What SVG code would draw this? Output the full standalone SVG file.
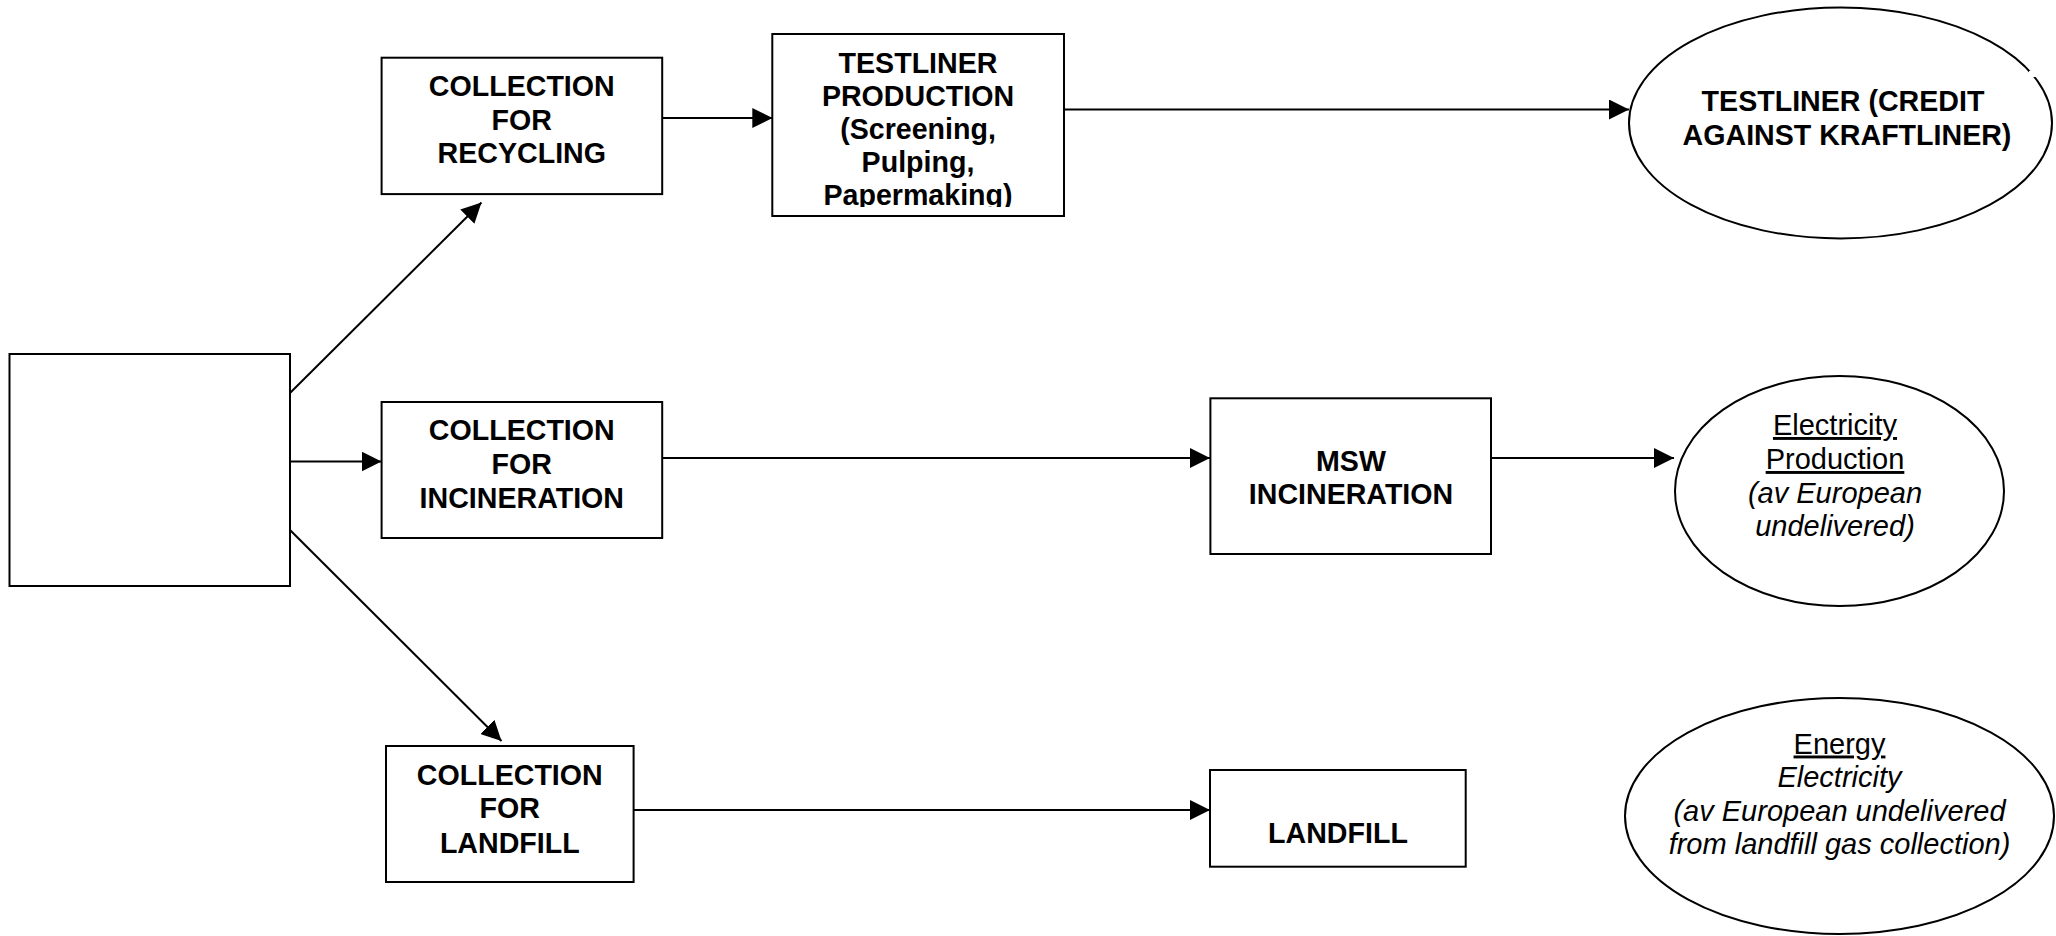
<svg xmlns="http://www.w3.org/2000/svg" width="2056" height="936" viewBox="0 0 2056 936">
  <defs>
    <style>
      .box { fill: #fff; stroke: #000; stroke-width: 2; }
      .ell { fill: #fff; stroke: #000; stroke-width: 2; }
      .b { font-family: "Liberation Sans", Arial, sans-serif; font-weight: bold; font-size: 28.6px; text-anchor: middle; fill: #000; }
      .r { font-family: "Liberation Sans", Arial, sans-serif; font-size: 29px; text-anchor: middle; fill: #000; }
      .i { font-style: italic; }
      .u { text-decoration: underline; }
      .conn { stroke: #000; stroke-width: 2; fill: none; marker-end: url(#arr); }
    </style>
    <marker id="arr" markerUnits="userSpaceOnUse" viewBox="0 0 20 20" markerWidth="20" markerHeight="20" refX="20" refY="10" orient="auto">
      <path d="M0,0 L20,10 L0,20 z" fill="#000"/>
    </marker>
    <clipPath id="tlclip">
      <rect x="772" y="34" width="292" height="173"/>
    </clipPath>
  </defs>

  <rect width="2056" height="936" fill="#fff"/>

  <!-- connectors -->
  <g id="connectors">
    <line class="conn" x1="290" y1="393" x2="481.5" y2="202.5"/>
    <line class="conn" x1="290" y1="461.5" x2="381.5" y2="461.5"/>
    <line class="conn" x1="290" y1="530" x2="501.5" y2="741"/>
    <line class="conn" x1="662" y1="118" x2="772.3" y2="118"/>
    <line class="conn" x1="1064" y1="109.5" x2="1629" y2="109.5"/>
    <line class="conn" x1="662" y1="458" x2="1210" y2="458"/>
    <line class="conn" x1="1491" y1="458" x2="1674" y2="458"/>
    <line class="conn" x1="633.6" y1="810" x2="1210" y2="810"/>
  </g>

  <!-- source box (unlabelled) -->
  <g id="source">
    <rect class="box" x="9.5" y="354" width="280.5" height="232"/>
  </g>

  <g id="collect-recycling">
    <rect class="box" x="381.6" y="57.7" width="280.6" height="136.4"/>
    <text class="b" x="521.8" y="96">COLLECTION</text>
    <text class="b" x="521.8" y="129.6">FOR</text>
    <text class="b" x="521.8" y="163.3">RECYCLING</text>
  </g>

  <g id="testliner-production">
    <rect class="box" x="772.3" y="34" width="291.7" height="182"/>
    <g clip-path="url(#tlclip)">
      <text class="b" x="918" y="72.5">TESTLINER</text>
      <text class="b" x="918" y="105.5">PRODUCTION</text>
      <text class="b" x="918" y="138.5">(Screening,</text>
      <text class="b" x="918" y="171.5">Pulping,</text>
      <text class="b" x="918" y="204.5">Papermaking)</text>
    </g>
  </g>

  <g id="testliner-credit">
    <ellipse class="ell" cx="1840.5" cy="123" rx="211.5" ry="115.5"/>
    <rect x="2029" y="71" width="8" height="6" fill="#fff"/>
    <text class="b" x="1843" y="111">TESTLINER (CREDIT</text>
    <text class="b" x="1847" y="144.5">AGAINST KRAFTLINER)</text>
  </g>

  <g id="collect-incineration">
    <rect class="box" x="381.6" y="402" width="280.6" height="136"/>
    <text class="b" x="521.8" y="440">COLLECTION</text>
    <text class="b" x="521.8" y="474.2">FOR</text>
    <text class="b" x="521.8" y="508.3">INCINERATION</text>
  </g>

  <g id="msw-incineration">
    <rect class="box" x="1210.4" y="398.3" width="280.6" height="155.7"/>
    <text class="b" x="1351" y="470.5">MSW</text>
    <text class="b" x="1351" y="504">INCINERATION</text>
  </g>

  <g id="electricity-production">
    <ellipse class="ell" cx="1839.5" cy="491" rx="164.5" ry="115"/>
    <text class="r u" x="1835" y="435">Electricity</text>
    <text class="r u" x="1835" y="469">Production</text>
    <text class="r i" x="1835" y="502.5">(av European</text>
    <text class="r i" x="1835" y="536">undelivered)</text>
  </g>

  <g id="collect-landfill">
    <rect class="box" x="386" y="746" width="247.6" height="136"/>
    <text class="b" x="509.8" y="784.5">COLLECTION</text>
    <text class="b" x="509.8" y="818">FOR</text>
    <text class="b" x="509.8" y="852.5">LANDFILL</text>
  </g>

  <g id="landfill">
    <rect class="box" x="1210" y="770" width="255.7" height="96.7"/>
    <text class="b" x="1338" y="843">LANDFILL</text>
  </g>

  <g id="energy-credit">
    <ellipse class="ell" cx="1839.5" cy="816" rx="214.5" ry="118"/>
    <text class="r u" x="1839.5" y="753.5">Energy</text>
    <text class="r i" x="1839.5" y="787">Electricity</text>
    <text class="r i" x="1839.5" y="820.5">(av European undelivered</text>
    <text class="r i" x="1839.5" y="854">from landfill gas collection)</text>
  </g>
</svg>
